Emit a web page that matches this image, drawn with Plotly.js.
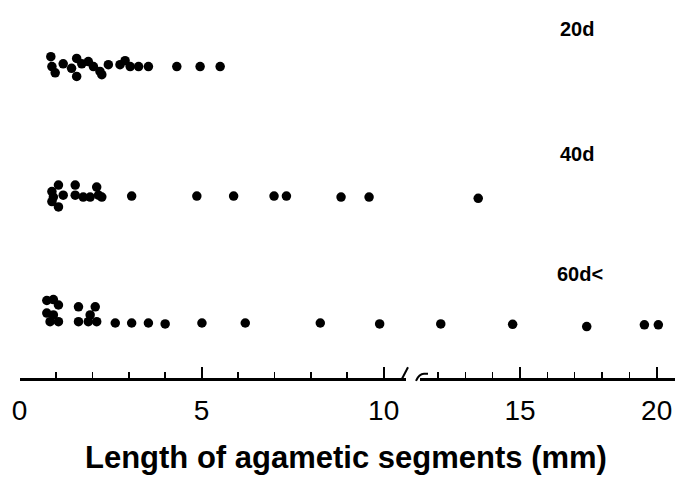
<!DOCTYPE html>
<html>
<head>
<meta charset="utf-8">
<script src="https://cdn.plot.ly/plotly-3.0.1.min.js"></script>
<style>html,body{margin:0;padding:0;background:#fff}#chart{width:688px;height:495px}</style>
</head>
<body>
<div id="chart"></div>
<script>
// Group labels
const groups = ['20d', '40d', '60d<'];

// Length of agametic segments (mm)
const len20 = [0.86, 0.89, 0.98, 1.20, 1.43, 1.57, 1.57, 1.71, 1.89, 2.03, 2.21, 2.26, 2.44, 2.76, 2.90, 3.04, 3.27, 3.54, 4.32, 4.96, 5.51];
const stack20 = [1.1, 0, -0.7, 0.3, -0.2, 0.9, -1.1, 0.3, 0.55, 0, -0.55, -0.9, 0.2, 0.2, 0.65, 0, 0, 0, 0, 0, 0];

const len40 = [1.07, 0.89, 0.93, 0.89, 1.07, 1.20, 1.53, 1.53, 1.75, 1.94, 2.12, 2.17, 2.26, 3.08, 4.87, 5.88, 6.99, 7.33, 8.83, 9.60, 13.47];
const stack40 = [1.33, 0.6, 0, -0.5, -1.1, 0.2, 1.33, 0.2, 0, 0, 1.1, 0.2, 0, 0.1, 0.1, 0.1, 0.1, 0.1, 0, 0, -0.15];

const len60 = [0.75, 0.93, 1.07, 0.75, 0.93, 0.84, 1.07, 1.62, 1.62, 2.08, 1.94, 1.89, 2.12, 2.63, 3.08, 3.54, 4.00, 5.01, 6.20, 8.26, 9.89, 12.10, 14.73, 17.44, 19.55, 20.06];
const stack60 = [2.5, 2.6, 2.0, 1.1, 0.9, 0.15, 0.15, 1.8, 0.15, 1.8, 0.9, 0.15, 0.15, 0, 0, 0, -0.1, 0, 0, 0, -0.1, -0.1, -0.15, -0.4, -0.2, -0.2];

// Break in the x axis
const breakAt = 10.6;

const rowBase = {'20d': 28.5, '40d': 14, '60d<': 0};
const series = {'20d': [len20, stack20], '40d': [len40, stack40], '60d<': [len60, stack60]};

const traces = [];
groups.forEach(g => {
  const [xs, st] = series[g];
  const lx = [], ly = [], rx = [], ry = [];
  xs.forEach((v, i) => {
    const y = rowBase[g] + st[i];
    if (v <= breakAt) { lx.push(v); ly.push(y); } else { rx.push(v); ry.push(y); }
  });
  const mk = {color: '#000', size: 9.5, line: {width: 0}};
  traces.push({x: lx, y: ly, type: 'scatter', mode: 'markers', marker: mk, xaxis: 'x', yaxis: 'y', showlegend: false, hoverinfo: 'x'});
  if (rx.length) traces.push({x: rx, y: ry, type: 'scatter', mode: 'markers', marker: mk, xaxis: 'x2', yaxis: 'y', showlegend: false, hoverinfo: 'x'});
});

const FAM = 'Liberation Sans, Arial, Helvetica, sans-serif';
const axisCommon = {
  showline: true, linecolor: '#000', linewidth: 2.8, showgrid: false, zeroline: false,
  ticks: 'inside', ticklen: 11, tickwidth: 2, tickcolor: '#000',
  ticklabelstandoff: 6,
  minor: {dtick: 1, ticks: 'inside', ticklen: 6, tickwidth: 1.5, tickcolor: '#000', showgrid: false},
  fixedrange: true
};

const layout = {
  width: 688, height: 495,
  margin: {l: 0, r: 0, t: 20, b: 117},
  paper_bgcolor: '#fff', plot_bgcolor: '#fff',
  xaxis: Object.assign({}, axisCommon, {domain: [19.5/688, 405.5/688], range: [0, breakAt], tickvals: [0, 5, 10], ticktext: ['0', '5', '10'], anchor: 'y', tickfont: {family: FAM, size: 28, color: '#000'}}),
  xaxis2: Object.assign({}, axisCommon, {domain: [420/688, 675/688], range: [11.34, 20.67], tickvals: [15, 20], ticktext: ['15', '20'], anchor: 'y', tickfont: {family: FAM, size: 28, color: '#000'}}),
  yaxis: {range: [-6.11, 33.67], visible: false, fixedrange: true},
  shapes: [
    {type: 'line', xref: 'paper', yref: 'paper', x0: 402/688, y0: -0.002, x1: 408/688, y1: 0.03, line: {color: '#000', width: 2}},
    {type: 'path', xref: 'paper', yref: 'paper', path: 'M ' + (416/688) + ' -0.008 Q ' + (419/688) + ' 0.012 ' + (424/688) + ' 0.012 L ' + (428/688) + ' 0.012', line: {color: '#000', width: 2}}
  ],
  annotations: [
    {text: '<b>20d</b>', xref: 'paper', yref: 'y', x: 577/688, xanchor: 'center', y: 32.7, showarrow: false, font: {family: FAM, size: 20, color: '#000'}},
    {text: '<b>40d</b>', xref: 'paper', yref: 'y', x: 577/688, xanchor: 'center', y: 18.8, showarrow: false, font: {family: FAM, size: 20, color: '#000'}},
    {text: '<b>60d&lt;</b>', xref: 'paper', yref: 'y', x: 580/688, xanchor: 'center', y: 5.5, showarrow: false, font: {family: FAM, size: 20, color: '#000'}},
    {text: '<b>Length of agametic segments (mm)</b>', xref: 'paper', yref: 'paper', x: 346/688, xanchor: 'center', y: -79/358, yanchor: 'middle', showarrow: false, font: {family: FAM, size: 31, color: '#000'}}
  ]
};

Plotly.newPlot('chart', traces, layout, {displayModeBar: false, staticPlot: true});
</script>
</body>
</html>
